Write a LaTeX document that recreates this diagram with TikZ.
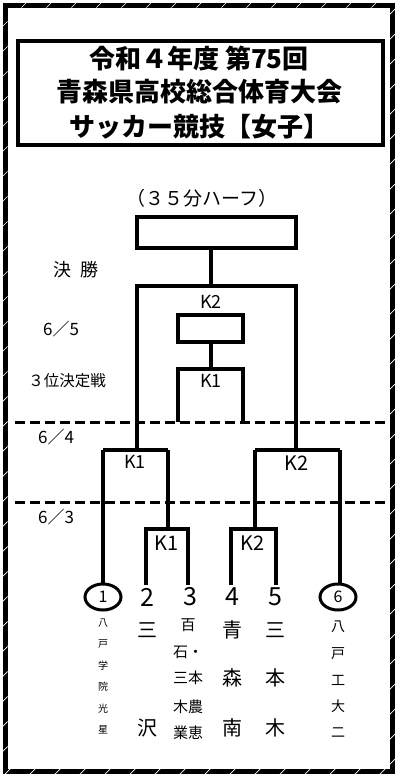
\documentclass[tikz,border=0pt]{standalone}
\usepackage{fontspec}
\usetikzlibrary{shapes.geometric}
\setmainfont{Noto Sans CJK JP}
\newcommand\myfs[1]{\fontsize{#1}{#1}\selectfont}
\begin{document}
\begin{tikzpicture}[x=1pt,y=-1pt,line cap=butt,
  br/.style={line width=4pt},
  boxx/.style={draw,line width=4pt,inner sep=0pt},
  txt/.style={inner sep=0pt,anchor=center},
  dashline/.style={line width=3pt,dash pattern=on 10pt off 5pt},
  numc/.style={draw,ellipse,line width=3pt,minimum width=36pt,minimum height=26pt,inner sep=0pt}]
\useasboundingbox (0,0) rectangle (400,779);
% outer frame
\draw[line width=5pt] (5,5) rectangle (392.5,771.5);
\begin{scope}[even odd rule]
\clip (2,2) rectangle (396,775) (7.6,7.6) rectangle (390,769);
\foreach \i in {-800,-775,...,420}
  \draw[white,line width=0.7pt] (\i,779) -- ++(779,-779);
\end{scope}
% title
\node[boxx,minimum width=365pt,minimum height=103.5pt] (title) at (200,92.75) {};
\node[txt,font=\myfs{26}\bfseries] (t1) at (199,59) {令和４年度 第75回};
\node[txt,font=\myfs{26}\bfseries] (t2) at (199,92) {青森県高校総合体育大会};
\node[txt,font=\myfs{26}\bfseries] (t3) at (199,127) {サッカー競技【女子】};
% subtitle
\node[txt,font=\myfs{19}] (sub) at (202,198) {（３５分ハーフ）};
% date labels
\node[txt,font=\myfs{18}] (dk) at (76,270) {決\hspace{9pt}勝};
\node[txt,font=\myfs{17}] (d65) at (61,329) {6／5};
\node[txt,font=\myfs{15.5}] (d3) at (67,381) {３位決定戦};
\node[txt,font=\myfs{17}] (d64) at (56,437) {6／4};
\node[txt,font=\myfs{17}] (d63) at (56,517) {6／3};
% dashed lines
\coordinate (da1) at (15,422); \coordinate (da2) at (385,422);
\coordinate (db1) at (15,502); \coordinate (db2) at (385,502);
\draw[dashline] (da1) -- (da2);
\draw[dashline] (db1) -- (db2);
% final
\node[boxx,minimum width=159pt,minimum height=31pt] (final) at (216.5,232.5) {};
\coordinate (fs) at (211,286);
\coordinate (fL) at (136.5,286); \coordinate (fR) at (296,286);
\draw[br] (final.south -| fs) -- (fs);
\node[txt,font=\myfs{18}] (kf) at (211,302) {K2};
% third place
\node[boxx,minimum width=65pt,minimum height=27pt] (third) at (210.5,328.5) {};
\coordinate (ts) at (211,369);
\coordinate (tL) at (178,369); \coordinate (tR) at (243,369);
\draw[br] (third.south -| ts) -- (ts);
\draw[br] (tL |- da1) -- (tL) -- (tR) -- (tR |- da1);
\node[txt,font=\myfs{18}] (kt) at (211,381) {K1};
% semifinals
\coordinate (sL1) at (103,450); \coordinate (sL2) at (168,450);
\coordinate (sR1) at (255,450); \coordinate (sR2) at (340,450);
\draw[br] (fL |- sL1) -- (fL) -- (fR) -- (fR |- sR1);
\draw[br] (sL1) -- (sL2);
\draw[br] (sR1) -- (sR2);
\node[txt,font=\myfs{18}] (ks1) at (135,462) {K1};
\node[txt,font=\myfs{20}] (ks2) at (297,463) {K2};
% first round
\coordinate (a1) at (146,529); \coordinate (a2) at (188,529);
\coordinate (b1) at (231,529); \coordinate (b2) at (276,529);
\draw[br] (sL2) -- (sL2 |- a1);
\draw[br] (sR1) -- (sR1 |- b1);
\node[txt,font=\myfs{20}] (ka) at (167,543) {K1};
\node[txt,font=\myfs{20}] (kb) at (253,543) {K2};
% team numbers
\node[numc] (c1) at (103,597) {};
\node[txt,font=\myfs{16}] (n1) at (103,597) {1};
\node[numc] (c6) at (338,597) {};
\node[txt,font=\myfs{16}] (n6) at (338,597) {6};
\node[txt,font=\myfs{25}] (n2) at (147,597) {2};
\node[txt,font=\myfs{25}] (n3) at (190,597) {3};
\node[txt,font=\myfs{25}] (n4) at (232,597) {4};
\node[txt,font=\myfs{25}] (n5) at (275,597) {5};
\coordinate (e) at (0,585);
\draw[br] (sL1) -- (c1.north);
\draw[br] (sR2) -- (sR2 |- c6.north);
\draw[br] (a1 |- e) -- (a1) -- (a2) -- (a2 |- e);
\draw[br] (b1 |- e) -- (b1) -- (b2) -- (b2 |- e);
% school names
\foreach \c [count=\k] in {八,戸,学,院,光,星}
  \node[txt,font=\myfs{10}] (sa\k) at (103,{623+21.4*(\k-1)}) {\c};
\foreach \c [count=\k] in {八,戸,工,大,二}
  \node[txt,font=\myfs{14}] (sf\k) at (338,{627+26.5*(\k-1)}) {\c};
\foreach \c/\y [count=\k] in {百/625,石・/652,三本/678,木農/707,業恵/733}
  \node[txt,font=\myfs{15}] (sc\k) at (188,\y) {\c};
\foreach \c/\y [count=\k] in {三/630,沢/728}
  \node[txt,font=\myfs{20}] (sb\k) at (147,\y) {\c};
\foreach \c/\y [count=\k] in {青/630,森/678,南/728}
  \node[txt,font=\myfs{20}] (sd\k) at (232,\y) {\c};
\foreach \c/\y [count=\k] in {三/630,本/678,木/728}
  \node[txt,font=\myfs{20}] (se\k) at (275,\y) {\c};
\end{tikzpicture}
\end{document}
